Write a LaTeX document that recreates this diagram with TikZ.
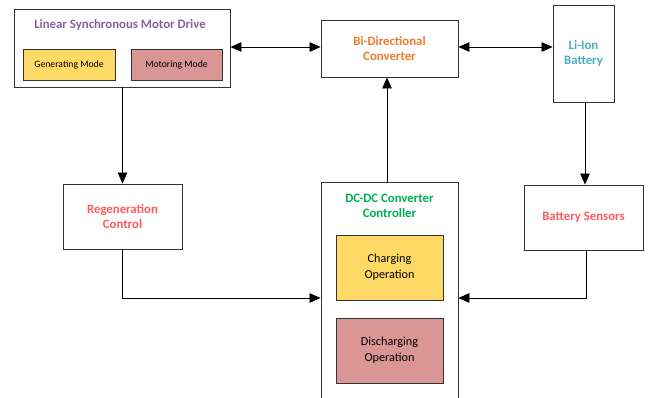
\documentclass[tikz,border=0pt]{standalone}
\usepackage{fontspec}
\setmainfont{Carlito}
\usetikzlibrary{arrows.meta}
\definecolor{cpurple}{HTML}{8064A2}
\definecolor{corange}{HTML}{F07B2A}
\definecolor{cblue}{HTML}{4BACC6}
\definecolor{cred}{HTML}{FF5A5F}
\definecolor{cgreen}{HTML}{00B050}
\definecolor{cyellow}{HTML}{FFD966}
\definecolor{cpink}{HTML}{D99694}
\tikzset{
  blk/.style={draw=black!80, line width=0.9pt, fill=white, inner sep=0pt},
  sub/.style={draw=black!80, line width=0.9pt, inner sep=0pt, align=center, font=\fontsize{12.2}{16}\selectfont},
  ttl/.style={font=\bfseries\fontsize{12.8}{15}\selectfont, align=center},
  conn/.style={line width=0.8pt, -{Triangle[length=11pt,width=9.5pt]}},
  bconn/.style={line width=0.8pt, {Triangle[length=11pt,width=9.5pt]}-{Triangle[length=11pt,width=9.5pt]}}
}
\begin{document}
\begin{tikzpicture}[x=1pt,y=-1pt]
\useasboundingbox (0,0) rectangle (653,397);
% boxes
\node[blk, minimum width=216pt, minimum height=78pt] (lsm) at (122,48) {};
\node[ttl, text=cpurple] (lsmt) at (120,25) {Linear Synchronous Motor Drive};
\node[sub, fill=cyellow, minimum width=92pt, minimum height=31pt, font=\fontsize{9.7}{11}\selectfont] (gen) at (69,64.5) {Generating Mode};
\node[sub, fill=cpink, minimum width=91pt, minimum height=31pt, font=\fontsize{9.7}{11}\selectfont] (mot) at (176.5,64.5) {Motoring Mode};

\node[blk, minimum width=137pt, minimum height=57pt, ttl, text=corange] (bi) at (389.5,48.5) {Bi-Directional\\Converter};
\node[blk, minimum width=61pt, minimum height=97pt, ttl, text=cblue] (li) at (583.5,53.5) {Li-Ion\\Battery};

\node[blk, minimum width=119pt, minimum height=65pt, ttl, text=cred] (reg) at (122.5,216.5) {Regeneration\\Control};
\node[blk, minimum width=119pt, minimum height=65pt, ttl, text=cred] (bs) at (583.5,217.5) {Battery Sensors};

\node[blk, minimum width=137pt, minimum height=216pt] (dc) at (389.5,290) {};
\node[ttl, text=cgreen] (dct) at (389.5,206) {DC-DC Converter\\Controller};
\node[sub, fill=cyellow, minimum width=107pt, minimum height=65pt] (chg) at (389.5,267.5) {Charging\\Operation};
\node[sub, fill=cpink, minimum width=107pt, minimum height=65pt] (dis) at (389.5,350.5) {Discharging\\Operation};

% connectors
\draw[bconn] (lsm.east |- 0,47) -- (bi.west |- 0,47);
\draw[bconn] (bi.east |- 0,47) -- (li.west |- 0,47);
\draw[conn] (lsm.south -| reg.north) -- (reg.north);
\draw[conn] (li.south -| 585,0) -- (bs.north -| 585,0);
\draw[conn] (dc.north -| 387,0) -- (bi.south -| 387,0);
\draw[conn] (reg.south) |- (dc.west |- 0,298);
\draw[conn] (bs.south -| 586,0) |- (dc.east |- 0,298);
\end{tikzpicture}
\end{document}
